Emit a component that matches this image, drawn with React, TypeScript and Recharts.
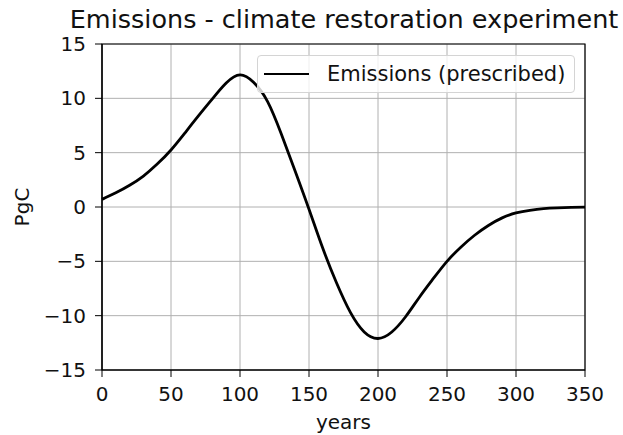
import * as React from 'react';
import {
  LineChart, Line, XAxis, YAxis, CartesianGrid, Legend, ReferenceArea
} from 'recharts';

// years since start, every 10 years
const years = [
  0, 10, 20, 30, 40, 50, 60, 70, 80, 90,
  100, 110, 120, 130, 140, 150, 160, 170, 180, 190,
  200, 210, 220, 230, 240, 250, 260, 270, 280, 290,
  300, 310, 320, 330, 340, 350,
];

// prescribed emissions, PgC
const emissions = [
  0.7, 1.3, 2.0, 2.85, 3.95, 5.25, 6.8, 8.4, 9.95, 11.4,
  12.15, 11.45, 9.7, 6.7, 3.3, -0.2, -3.8, -7.0, -9.7, -11.5,
  -12.1, -11.5, -10.1, -8.3, -6.6, -5.0, -3.7, -2.6, -1.7, -1.0,
  -0.55, -0.3, -0.15, -0.08, -0.04, -0.02,
];

const xTicks = [0, 50, 100, 150, 200, 250, 300, 350];
const yTicks = [-15, -10, -5, 0, 5, 10, 15];

const chartTitle = 'Emissions - climate restoration experiment';
const seriesName = 'Emissions (prescribed)';

const data = years.map((y, i) => ({ year: y, emissions: emissions[i] }));

const FONT = '"DejaVu Sans", sans-serif';
const minus = (v: number) => (v < 0 ? `\u2212${Math.abs(v)}` : `${v}`);

function LegendBox() {
  return (
    <div
      style={{
        width: 316,
        height: 36,
        border: '1px solid #d4d4d4',
        borderRadius: 4,
        background: 'rgba(255,255,255,0.8)',
        display: 'flex',
        alignItems: 'center',
        fontFamily: FONT,
        fontSize: 21,
        color: '#111',
        boxSizing: 'content-box',
      }}
    >
      <span style={{ display: 'inline-block', width: 45, height: 2.8, background: '#000', marginLeft: 6 }} />
      <span style={{ marginLeft: 18, whiteSpace: 'nowrap' }}>{seriesName}</span>
    </div>
  );
}

export default function App() {
  return (
    <div style={{ position: 'absolute', left: 0, top: 0, width: 623, height: 435, background: '#fff', fontFamily: FONT }}>
      <div
        style={{
          position: 'absolute', left: 44, width: 600, top: 7, textAlign: 'center',
          fontSize: 25.5, color: '#111', whiteSpace: 'nowrap', lineHeight: 1,
        }}
      >
        {chartTitle}
      </div>
      <LineChart
        width={623}
        height={435}
        data={data}
        margin={{ top: 44, right: 38, bottom: 5, left: 32 }}
      >
        <CartesianGrid stroke="#b0b0b0" strokeWidth={1} />
        <XAxis
          dataKey="year"
          type="number"
          domain={[0, 350]}
          ticks={xTicks}
          height={60}
          tick={{ fontSize: 20, fill: '#111', fontFamily: FONT }}
          tickLine={{ stroke: '#000' }}
          tickSize={7}
          tickMargin={10}
          axisLine={{ stroke: '#000', strokeWidth: 1.2 }}
          label={(p: any) => (
            <text
              x={p.viewBox.x + p.viewBox.width / 2}
              y={429}
              textAnchor="middle"
              fontSize={20}
              fill="#111"
              fontFamily={FONT}
            >
              years
            </text>
          )}
        />
        <YAxis
          type="number"
          domain={[-15, 15]}
          ticks={yTicks}
          width={70}
          tickFormatter={minus}
          tick={{ fontSize: 20, fill: '#111', fontFamily: FONT }}
          tickLine={{ stroke: '#000' }}
          tickSize={7}
          tickMargin={9}
          axisLine={{ stroke: '#000', strokeWidth: 1.2 }}
          label={(p: any) => {
            const cy = p.viewBox.y + p.viewBox.height / 2;
            return (
              <text
                x={22}
                y={cy}
                transform={`rotate(-90 22 ${cy})`}
                textAnchor="middle"
                dominantBaseline="central"
                fontSize={20}
                fill="#111"
                fontFamily={FONT}
              >
                PgC
              </text>
            );
          }}
        />
        <ReferenceArea x1={0} x2={350} y1={-15} y2={15} fill="none" stroke="#000" strokeWidth={1.2} />
        <Line
          type="natural"
          dataKey="emissions"
          name={seriesName}
          stroke="#000"
          strokeWidth={2.8}
          dot={false}
          isAnimationActive={false}
        />
        <Legend
          layout="horizontal"
          verticalAlign="middle"
          content={() => <LegendBox />}
          wrapperStyle={{ position: 'absolute', top: 55, left: 257, width: 'auto', height: 'auto' }}
        />
      </LineChart>
    </div>
  );
}
